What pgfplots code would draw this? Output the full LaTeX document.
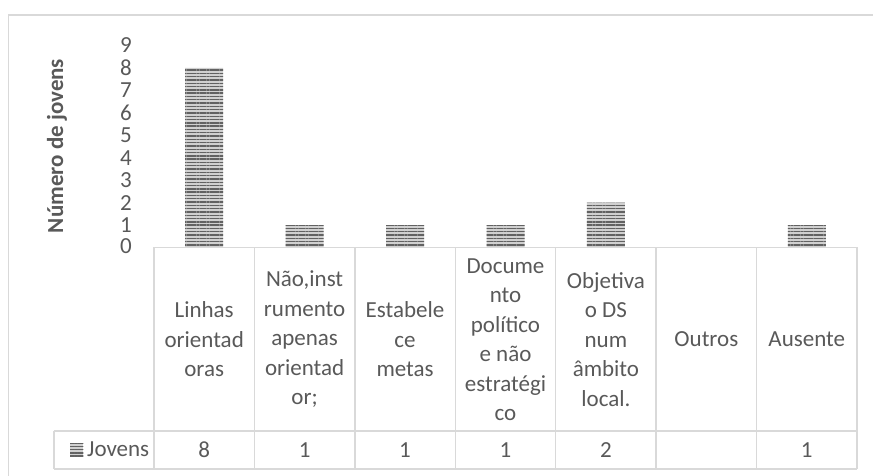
\documentclass[border=0pt]{standalone}
\usepackage{fontspec}
\setmainfont{Carlito}
\usepackage{pgfplots}
\pgfplotsset{compat=1.18}
\usetikzlibrary{patterns.meta}
\definecolor{txt}{HTML}{595959}
\definecolor{gridc}{HTML}{D9D9D9}
\definecolor{barbg}{HTML}{D0D0D0}
\definecolor{bardk}{HTML}{626262}
\begin{document}
\begin{tikzpicture}[x=1bp,y=1bp,font=\fontsize{23bp}{29.5bp}\selectfont,text=txt]
\path[use as bounding box] (-154,-228.5) rectangle (720,247.5);
% outer chart frame
\draw[gridc,line width=1.5bp] (-145.5,-228.5) -- (-145.5,232.5) -- (719,232.5);
\begin{axis}[
  at={(0,0)}, anchor=south west, scale only axis,
  width=703bp, height=202bp,
  xmin=-0.5, xmax=6.5, ymin=0, ymax=9, clip=false,
  ybar, bar width=38bp,
  axis line style={draw=none}, major tick length=0,
  ytick={1,...,9},
  extra y ticks={0},
  extra y tick style={yticklabel style={yshift=1bp}},
  yticklabel style={anchor=east, inner sep=0pt, xshift=-22bp, text=txt},
  /pgf/number format/assume math mode=true,
  xtick={0,...,6},
  xticklabels={{Linhas\\orientad\\oras},{Não,inst\\rumento\\apenas\\orientad\\or;},{Estabele\\ce\\metas},{Docume\\nto\\político\\e não\\estratégi\\co},{Objetiva\\o DS\\num\\âmbito\\local.},{Outros},{Ausente}},
  xticklabel style={anchor=center, align=center, yshift=-92bp, text=txt},
  extra x ticks={0,...,6},
  extra x tick labels={8,1,1,1,2,{},1},
  extra x tick style={grid=none, xticklabel style={yshift=-110.5bp}},
  ylabel={Número de jovens},
  ylabel style={at={(axis description cs:-0.138,0.5025)}, anchor=center, font=\fontsize{23bp}{29.5bp}\selectfont\bfseries, text=txt},
  legend style={draw=none, fill=none, inner sep=0pt, anchor=west, at={(-0.1195,-1.0025)}, nodes={inner sep=1bp, text=txt}},
  legend cell align=left,
]
\addplot[draw=none, fill=barbg,
  postaction={pattern={Lines[angle=0,distance=3.3bp,line width=1.4bp]}, pattern color=bardk},
  legend image code/.code={
    \fill[barbg] (0bp,-6.5bp) rectangle (13bp,6.5bp);
    \fill[pattern={Lines[angle=0,distance=3.3bp,line width=1.4bp]}, pattern color=bardk] (0bp,-6.5bp) rectangle (13bp,6.5bp);
  }]
  coordinates {(0,8) (1,1) (2,1) (3,1) (4,2) (6,1)};
\addlegendentry{\hspace{3bp}Jovens}
\end{axis}
% data table grid
\begin{scope}[gridc, line width=1.5bp]
\draw (0,0) -- (703,0);
\draw (-100,-183.5) -- (703,-183.5);
\draw (-100,-221.5) -- (703,-221.5);
\draw (-100,-183.5) -- (-100,-221.5);
\foreach \k in {0,...,7} {\draw ({100.4286*\k},0) -- ({100.4286*\k},-221.5);}
\end{scope}
\end{tikzpicture}
\end{document}
